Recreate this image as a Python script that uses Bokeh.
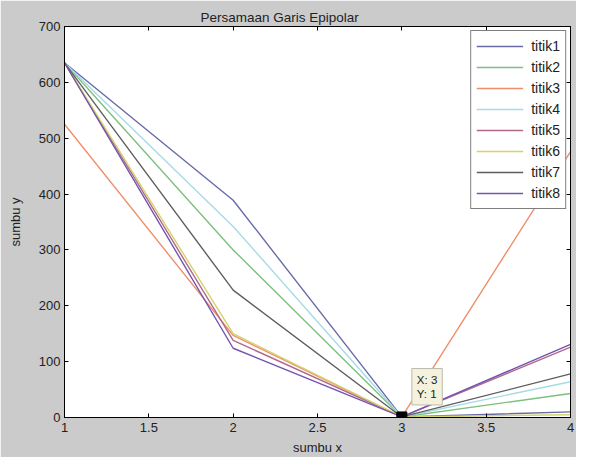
from bokeh.plotting import figure
from bokeh.models import LinearAxis, Range1d, FixedTicker, Legend, LegendItem, Label
from bokeh.embed import file_html
from bokeh.resources import INLINE

x_vals = [1, 2, 3, 4]
titik1 = [635, 389, 1, 10]
titik2 = [635, 300, 1, 43]
titik3 = [525, 147, 1, 476]
titik4 = [635, 342, 1, 64]
titik5 = [635, 138, 1, 126]
titik6 = [635, 150, 1, 5]
titik7 = [635, 228, 1, 78]
titik8 = [635, 124, 1, 131]
series_names = ["titik1", "titik2", "titik3", "titik4", "titik5", "titik6", "titik7", "titik8"]
series_vals = [titik1, titik2, titik3, titik4, titik5, titik6, titik7, titik8]
colors = ["#6a6aa8", "#7fbf7f", "#ef8f6a", "#a6dbe6", "#b06a8a", "#d3d36a", "#5e5e5e", "#7454b0"]
x_ticks = [1, 1.5, 2, 2.5, 3, 3.5, 4]
y_ticks = [0, 100, 200, 300, 400, 500, 600, 700]
tip_x = 3
tip_y = 1

FONT = "Liberation Sans"
BG = "#cbcbcb"

p = figure(width=576, height=457, output_backend="svg", toolbar_location=None,
           x_range=Range1d(1, 4), y_range=Range1d(0, 700),
           min_border_left=64, min_border_right=6, min_border_top=26, min_border_bottom=38)
p.background_fill_color = "white"
p.border_fill_color = BG
p.outline_line_color = "black"
p.outline_line_width = 1
p.xgrid.visible = False
p.ygrid.visible = False

p.title.text = "Persamaan Garis Epipolar"
p.title.text_font = FONT
p.title.text_font_size = "13.5px"
p.title.text_font_style = "normal"
p.title.text_color = "#222222"
p.title.align = "left"
p.title.offset = 136
p.title.standoff = 4

for ax, ticks in ((p.xaxis[0], x_ticks), (p.yaxis[0], y_ticks)):
    ax.ticker = FixedTicker(ticks=ticks)
    ax.major_tick_in = 4
    ax.major_tick_out = 0
    ax.minor_tick_line_color = None
    ax.axis_line_color = "black"
    ax.major_tick_line_color = "black"
    ax.major_label_text_font = FONT
    ax.major_label_text_font_size = "13px"
    ax.major_label_text_color = "#222222"
    ax.axis_label_text_font = FONT
    ax.axis_label_text_font_size = "13px"
    ax.axis_label_text_font_style = "normal"
    ax.axis_label_text_color = "#222222"

p.xaxis[0].axis_label = "sumbu x"
p.xaxis[0].major_label_standoff = 5
p.xaxis[0].axis_label_standoff = 5
p.yaxis[0].axis_label = "sumbu y"
p.yaxis[0].major_label_standoff = 4
p.yaxis[0].axis_label_standoff = 13

top_ax = LinearAxis(ticker=FixedTicker(ticks=x_ticks), major_tick_in=4, major_tick_out=0,
                    minor_tick_line_color=None, major_label_text_font_size="1px",
                    major_label_text_color=None,
                    axis_line_color="black", major_tick_line_color="black")
right_ax = LinearAxis(ticker=FixedTicker(ticks=y_ticks), major_tick_in=4, major_tick_out=0,
                      minor_tick_line_color=None, major_label_text_font_size="1px",
                      major_label_text_color=None,
                      axis_line_color="black", major_tick_line_color="black")
p.add_layout(top_ax, "above")
p.add_layout(right_ax, "right")

items = []
for name, vals, c in zip(series_names, series_vals, colors):
    r = p.line(x_vals, vals, line_color=c, line_width=1.4)
    items.append(LegendItem(label=name, renderers=[r]))

p.scatter([tip_x], [tip_y], marker="square", size=10, fill_color="black", line_color="black")
lbl = Label(x=tip_x, y=tip_y, text="X: 3\nY: 1", x_offset=10, y_offset=12,
            text_font=FONT, text_font_size="11.5px", text_color="#222222",
            background_fill_color="#f4f1dc", border_line_color="#bdbab0",
            padding=5)
p.add_layout(lbl)

legend = Legend(items=items, location="top_right")
legend.margin = 4
legend.padding = 5
legend.spacing = 1
legend.glyph_width = 47
legend.glyph_height = 20
legend.label_height = 20
legend.label_standoff = 8
legend.label_text_font = FONT
legend.label_text_font_size = "14px"
legend.label_text_color = "#222222"
legend.border_line_color = "black"
legend.border_line_width = 1
legend.background_fill_color = "white"
legend.background_fill_alpha = 1
p.add_layout(legend, "center")

open("out.html", "w").write(file_html(p, INLINE))
